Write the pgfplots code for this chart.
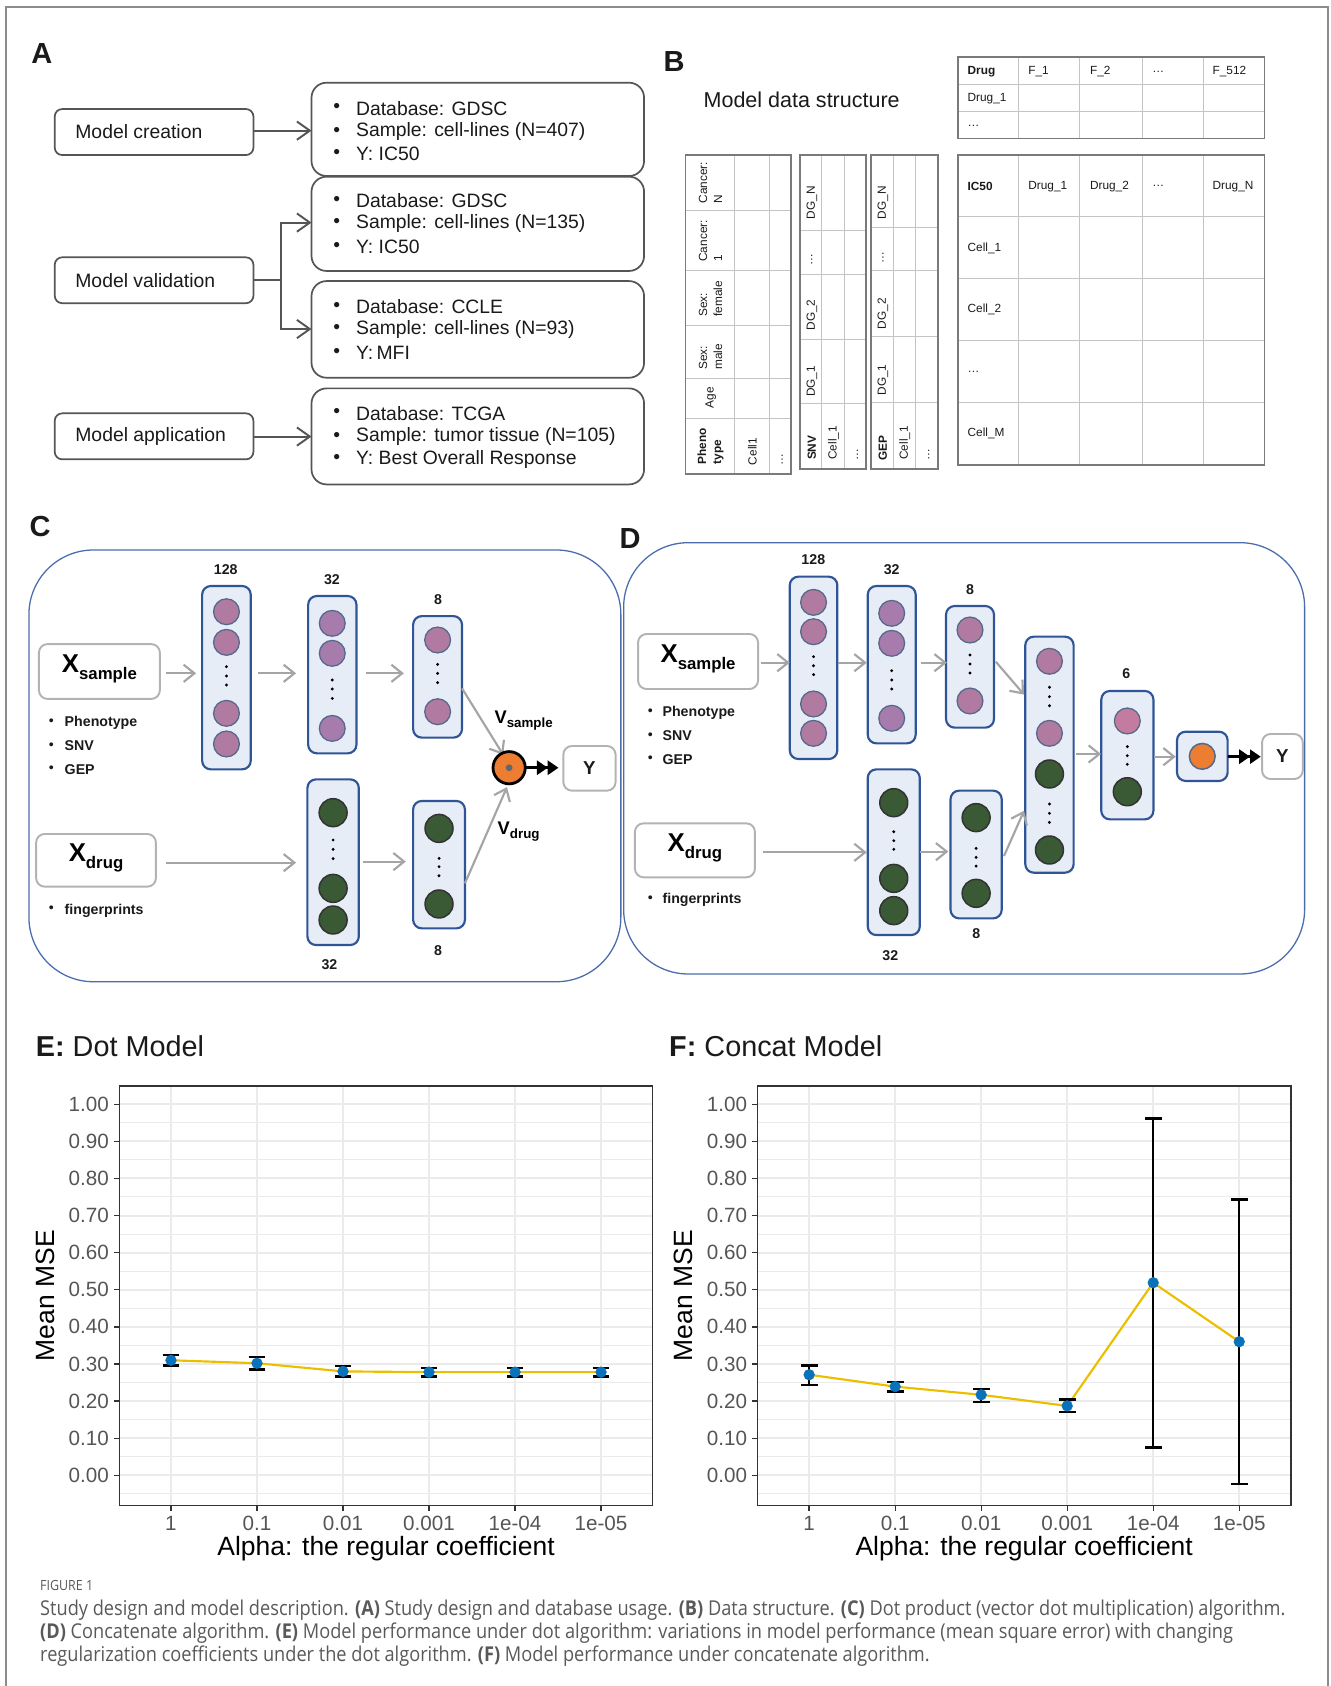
\documentclass[border=0pt]{standalone}
\usepackage{fontspec}
\setmainfont{Liberation Sans}
\newfontfamily\capfont[FakeStretch=0.89]{Open Sans}
\usepackage{pgfplots}
\usepackage{pgfplotstable}
\pgfplotsset{compat=1.18}
\usetikzlibrary{arrows.meta}

\definecolor{framegray}{HTML}{8C8C8C}
\definecolor{boxA}{HTML}{555555}
\definecolor{txt}{HTML}{1A1A1A}
\definecolor{tabin}{HTML}{C4C4C4}
\definecolor{tabout}{HTML}{7A7A7A}
\definecolor{panelblue}{HTML}{4A6DAE}
\definecolor{layerblue}{HTML}{2F5597}
\definecolor{layerfill}{HTML}{E7EDF7}
\definecolor{nborder}{HTML}{56698A}
\definecolor{pinkA}{HTML}{B07AA1}
\definecolor{pinkB}{HTML}{A77BAC}
\definecolor{pinkC}{HTML}{C47BA0}
\definecolor{greenN}{HTML}{3A5A36}
\definecolor{orangeN}{HTML}{ED7D31}
\definecolor{arrowgray}{HTML}{A5A5A5}
\definecolor{inbox}{HTML}{B3B3B3}
\definecolor{gridgray}{HTML}{EBEBEB}
\definecolor{axisdark}{HTML}{333333}
\definecolor{ticgray}{HTML}{555555}
\definecolor{linegold}{HTML}{EBBE00}
\definecolor{ptblue}{HTML}{0A72BA}
\definecolor{capgray}{HTML}{595959}

\newcommand{\fsz}[1]{\fontsize{#1}{#1}\selectfont}
\newcommand{\xlab}[1]{{\fontsize{12}{12}\selectfont\bfseries X\raisebox{-0.5ex}{\fontsize{7.8}{8}\selectfont\bfseries #1}}}
\newcommand{\vlab}[1]{{\fontsize{8.5}{9}\selectfont\bfseries V\raisebox{-0.45ex}{\fontsize{6.2}{7}\selectfont\bfseries #1}}}
\newcommand{\neuron}[3]{\draw[fill=#3, draw=nborder, line width=0.6pt] (#1,#2) circle[radius=12];}
\newcommand{\gneuron}[2]{\draw[fill=greenN, draw=black!80, line width=0.7pt] (#1,#2) circle[radius=13];}
\newcommand{\ndots}[4]{\fill[black] (#1,#2) circle[radius=1.5] (#1,#3) circle[radius=1.5] (#1,#4) circle[radius=1.5];}

\tikzset{
  layer/.style={fill=layerfill, draw=layerblue, line width=1pt, rounded corners=4pt},
  inbox/.style={draw=inbox, line width=0.9pt, rounded corners=4pt, fill=white},
  garrow/.style={draw=arrowgray, line width=1pt, -{Straight Barb[length=5pt,width=8pt]}},
  aarrow/.style={draw=boxA, line width=0.9pt, -{Straight Barb[length=6pt,width=8.5pt]}},
  lab/.style={font=\bfseries\fsz{6.6}, text=txt},
  blt/.style={font=\fsz{6.6}, text=txt},
  bltxt/.style={anchor=base west, inner sep=0pt, font=\bfseries\fsz{6.6}, text=txt},
  atext/.style={anchor=west, inner sep=0pt, font=\fsz{9}, text=txt},
  ttext/.style={anchor=west, inner sep=0pt, font=\fsz{5.5}, text=txt},
  rtext/.style={rotate=90, align=left, inner sep=0pt, font={\fontsize{5.5}{7}\selectfont}, text=txt},
  tabin/.style={draw=tabin, line width=0.4pt},
  tabout/.style={draw=tabout, line width=0.7pt},
}

\pgfplotstableread{
x y ep em
1 0.310 0.014 0.014
2 0.302 0.017 0.017
3 0.280 0.014 0.014
4 0.278 0.012 0.012
5 0.278 0.012 0.012
6 0.278 0.012 0.012
}\dotdata

\pgfplotstableread{
x y ep em
1 0.271 0.025 0.028
2 0.239 0.012 0.013
3 0.217 0.016 0.019
4 0.187 0.017 0.017
5 0.519 0.442 0.444
6 0.360 0.383 0.383
}\concatdata

\pgfplotsset{
  mseaxis/.style={
    scale only axis, width=248pt, height=195pt,
    xmin=0.4, xmax=6.6, ymin=-0.081, ymax=1.049,
    xtick={1,2,3,4,5,6},
    xticklabels={1,0.1,0.01,0.001,1e-04,1e-05},
    ytick={0,0.1,0.2,0.3,0.4,0.5,0.6,0.7,0.8,0.9,1},
    yticklabels={0.00,0.10,0.20,0.30,0.40,0.50,0.60,0.70,0.80,0.90,1.00},
    minor ytick={-0.05,0.05,0.15,0.25,0.35,0.45,0.55,0.65,0.75,0.85,0.95},
    grid=both,
    major grid style={color=gridgray, line width=0.9pt},
    minor grid style={color=gridgray, line width=0.45pt},
    axis line style={color=axisdark, line width=0.7pt},
    tick align=outside, tick pos=left,
    major tick length=2.5pt, minor tick length=0pt,
    tick style={color=axisdark, line width=0.6pt},
    tick label style={font=\fsz{9.6}, text=ticgray, inner sep=1pt},
    xticklabel style={yshift=-1.3pt},
    yticklabel style={xshift=-1.2pt},
    /pgf/number format/assume math mode=true,
    xlabel={Alpha: the regular coefficient},
    ylabel={Mean MSE},
    label style={font=\fsz{12.3}, text=black, inner sep=1pt},
    xlabel style={at={(axis description cs:0.5,-0.1026)}, anchor=center},
    ylabel style={at={(axis description cs:-0.139,0.5)}, anchor=center},
  },
  errplot/.style={
    only marks, mark=*, mark size=0.01pt, mark options={black},
    error bars/.cd, y dir=both, y explicit, error mark=|,
    error bar style={black, line width=1.1pt},
    error mark options={black, line width=1.1pt, mark size=3.9pt},
  },
  ptplot/.style={
    only marks, mark=*, mark size=2.5pt,
    mark options={fill=ptblue, draw=ptblue, line width=0.2pt},
  },
}

\begin{document}
\begin{tikzpicture}
\begin{scope}[x=0.5pt,y=-0.5pt]
\useasboundingbox (0,0) rectangle (1237,1568);
\draw[framegray, line width=1pt] (5.6,1580) -- (5.6,6.5) -- (1235,6.5) -- (1235,1580);

% ---------- A: study design ----------
\node[font=\bfseries\fsz{13.5}, text=txt] at (39,50) {A};
\draw[boxA, line width=0.8pt, rounded corners=3.5pt] (50.9,101.4) rectangle (235.7,144.2);
\draw[boxA, line width=0.8pt, rounded corners=3.5pt] (50.9,239.3) rectangle (235.7,282);
\draw[boxA, line width=0.8pt, rounded corners=3.5pt] (50.9,384.4) rectangle (235.7,427.2);
\node[atext] at (69.7,122.8) {Model creation};
\node[atext] at (69.7,260.6) {Model validation};
\node[atext] at (69.7,405.8) {Model application};

\draw[boxA, line width=0.8pt, rounded corners=7pt, fill=white] (289.7,76.9) rectangle (599,163.7);
\draw[boxA, line width=0.8pt, rounded corners=7pt] (289.7,164.3) rectangle (599,252);
\draw[boxA, line width=0.8pt, rounded corners=7pt] (289.7,261.4) rectangle (599,351.3);
\draw[boxA, line width=0.8pt, rounded corners=7pt] (289.7,361.2) rectangle (599,450.5);

\foreach \y/\t in {100.8/{Database: GDSC}, 122.5/{Sample: cell-lines (N=407)}, 143.5/{Y: IC50},
                   187/{Database: GDSC}, 207.7/{Sample: cell-lines (N=135)}, 229.4/{Y: IC50},
                   285.2/{Database: CCLE}, 306.3/{Sample: cell-lines (N=93)}, 328/{Y:\,MFI},
                   384.4/{Database: TCGA}, 406.1/{Sample: tumor tissue (N=105)}, 427.2/{Y: Best Overall Response}}{
  \node[font=\fsz{9}, text=txt] at (313.2,\y) {•};
  \node[atext] at (330.8,\y) {\t};
}

\draw[aarrow] (235.7,121.5) -- (289.7,121.5);
\draw[boxA, line width=0.9pt] (235.7,260.4) -- (261.5,260.4);
\draw[aarrow] (261.5,260.4) |- (289.7,207);
\draw[aarrow] (261.5,260.4) |- (289.7,306);
\draw[aarrow] (235.7,406) -- (289.7,406);

% ---------- B: data structure ----------
\node[font=\bfseries\fsz{13.5}, text=txt] at (627,57) {B};
\node[anchor=west, inner sep=0pt, font=\fsz{10}, text=txt] at (654,92.6) {Model data structure};

% drug fingerprint table
\foreach \yy in {78.5,103.4} \draw[tabin] (891,\yy) -- (1176,\yy);
\foreach \xx in {947.3,1004.3,1062,1119} \draw[tabin] (\xx,53.2) -- (\xx,128.6);
\draw[tabout] (891,53.2) rectangle (1176,128.6);
\node[ttext, font=\bfseries\fsz{5.5}] at (899.5,67) {Drug};
\node[ttext] at (956,67) {F\_1};
\node[ttext] at (1013.4,67) {F\_2};
\node[ttext] at (1071.2,67) {…};
\node[ttext] at (1127.4,67) {F\_512};
\node[ttext] at (899.5,91.7) {Drug\_1};
\node[ttext] at (899.5,117) {…};

% response table
\foreach \yy in {201.6,258.8,317,374.2} \draw[tabin] (891,\yy) -- (1176,\yy);
\foreach \xx in {947.3,1004.3,1062,1119} \draw[tabin] (\xx,144) -- (\xx,432.4);
\draw[tabout] (891,144) rectangle (1176,432.4);
\node[ttext, font=\bfseries\fsz{5.5}] at (899.5,173.2) {IC50};
\node[ttext] at (956,173.2) {Drug\_1};
\node[ttext] at (1013.4,173.2) {Drug\_2};
\node[ttext] at (1071.2,173.2) {…};
\node[ttext] at (1127.4,173.2) {Drug\_N};
\node[ttext] at (899.5,231.1) {Cell\_1};
\node[ttext] at (899.5,288) {Cell\_2};
\node[ttext] at (899.5,346) {…};
\node[ttext] at (899.5,403.5) {Cell\_M};

% phenotype table
\foreach \yy in {195.7,251.1,303.1,352.1,388.7} \draw[tabin] (637.3,\yy) -- (735.5,\yy);
\foreach \xx in {683.3,715.2} \draw[tabin] (\xx,144) -- (\xx,441);
\draw[tabout] (637.3,144) rectangle (735.5,441);
\node[rtext] at (660.8,170) {Cancer:\\N};
\node[rtext] at (660.8,224) {Cancer:\\1};
\node[rtext] at (660.8,278) {Sex:\\female};
\node[rtext] at (660.8,331.8) {Sex:\\male};
\node[rtext] at (661,370) {Age};
\node[rtext, font={\fontsize{5.5}{7}\selectfont\bfseries}] at (660.8,415) {Pheno\\type};
\node[rtext] at (699.8,420) {Cell1};
\node[rtext] at (727.5,427) {…};

% SNV table
\foreach \yy in {213.9,254.8,315.4,375.5} \draw[tabin] (743.9,\yy) -- (805.3,\yy);
\foreach \xx in {764.1,785.1} \draw[tabin] (\xx,144) -- (\xx,436.4);
\draw[tabout] (743.9,144) rectangle (805.3,436.4);
\node[rtext] at (755,188.6) {DG\_N};
\node[rtext] at (755,241) {…};
\node[rtext] at (755,293) {DG\_2};
\node[rtext] at (755,354.8) {DG\_1};
\node[rtext, font={\fontsize{5.5}{7}\selectfont\bfseries}] at (755,416.4) {SNV};
\node[rtext] at (775.2,411.8) {Cell\_1};
\node[rtext] at (797.5,422.6) {…};

% GEP table
\foreach \yy in {211.1,251.7,313.3,374.2} \draw[tabin] (810.1,\yy) -- (872.2,\yy);
\foreach \xx in {831.1,851.7} \draw[tabin] (\xx,144) -- (\xx,436.4);
\draw[tabout] (810.1,144) rectangle (872.2,436.4);
\node[rtext] at (821.1,188.6) {DG\_N};
\node[rtext] at (821.1,239.4) {…};
\node[rtext] at (821.1,291.7) {DG\_2};
\node[rtext] at (821.1,353.3) {DG\_1};
\node[rtext, font={\fontsize{5.5}{7}\selectfont\bfseries}] at (821.1,416.4) {GEP};
\node[rtext] at (841.4,411.8) {Cell\_1};
\node[rtext] at (863.8,422.6) {…};

% ---------- C: dot product network ----------
\node[font=\bfseries\fsz{13.5}, text=txt] at (37.4,489.8) {C};
\draw[panelblue, line width=0.6pt, rounded corners=30pt] (26.9,511.5) rectangle (577.4,913);

\draw[inbox] (36.2,599) rectangle (148.7,650);
\node at (92.5,622) {\xlab{sample}};
\foreach \y/\t in {671.2/Phenotype, 693.8/SNV, 715.5/GEP}{
  \node[blt] at (47.8,\y) {•};
  \node[bltxt] at (59.8,\y+4.5) {\t};
}
\draw[inbox] (33.6,775.6) rectangle (145,824.6);
\node at (89.3,797.5) {\xlab{drug}};
\node[blt] at (47.8,845.7) {•};
\node[bltxt] at (59.8,850.2) {fingerprints};

\draw[layer] (188,545) rectangle (233.2,715.5);
\neuron{210.6}{568.9}{pinkA} \neuron{210.6}{597.4}{pinkA}
\ndots{210.6}{620}{628.7}{637}
\neuron{210.6}{663.4}{pinkA} \neuron{210.6}{691.9}{pinkA}
\node[lab] at (210,530.1) {128};

\draw[layer] (286.6,554.3) rectangle (331.5,700.6);
\neuron{309}{579.7}{pinkB} \neuron{309}{607.6}{pinkB}
\ndots{309}{632.4}{640.8}{649.5}
\neuron{309}{677.4}{pinkB}
\node[lab] at (308.7,539.4) {32};

\draw[layer] (384.2,573) rectangle (429.7,686);
\neuron{407}{595.2}{pinkA}
\ndots{407}{617.8}{626.2}{634.9}
\neuron{407}{661.9}{pinkA}
\node[lab] at (407.3,557.4) {8};

\draw[layer] (285.9,724.8) rectangle (333.7,878.9);
\gneuron{309.8}{755.8}
\ndots{309.8}{781.2}{789.9}{798.6}
\gneuron{309.8}{826.2} \gneuron{309.8}{855.6}
\node[lab] at (306.4,897.5) {32};

\draw[layer] (384.2,744.9) rectangle (432.4,863.4);
\gneuron{408.3}{770.4}
\ndots{408.3}{798.3}{806}{814.4}
\gneuron{408.3}{840.7}
\node[lab] at (407.3,884.1) {8};

\draw[garrow] (154.3,626.2) -- (182.4,626.2);
\draw[garrow] (240.3,626.2) -- (275.4,626.2);
\draw[garrow] (340,626.2) -- (375.6,626.2);
\draw[garrow] (154.3,802.3) -- (275.4,802.3);
\draw[garrow] (337.5,801.3) -- (377.4,801.3);
\draw[garrow] (429.7,640.2) -- (468,702);
\draw[garrow] (432.4,821.5) -- (471.5,732);

\draw[black, line width=1.3pt, fill=orangeN] (473.5,714) circle[radius=15];
\fill[black!60] (473.5,714) circle[radius=3.2];
\draw[black, line width=1.2pt, -{Triangle[length=5pt,width=6.5pt]Triangle[length=5pt,width=6.5pt]}] (489.5,714) -- (519.4,714);
\draw[inbox] (523.9,693.8) rectangle (572.5,735.3);
\node[font=\bfseries\fsz{8.7}, text=txt] at (548.2,714.5) {Y};
\node[anchor=base west, inner sep=0pt] at (459.6,672.7) {\vlab{sample}};
\node[anchor=base west, inner sep=0pt] at (462.5,776) {\vlab{drug}};

% ---------- D: concatenate network ----------
\node[font=\bfseries\fsz{13.5}, text=txt] at (585.9,500.7) {D};
\draw[panelblue, line width=0.6pt, rounded corners=30pt] (580,504.7) rectangle (1213.3,905.8);

\draw[inbox] (593.4,589.6) rectangle (705,640.8);
\node at (649.2,612.7) {\xlab{sample}};
\foreach \y/\t in {662.2/Phenotype, 684.2/SNV, 706.2/GEP}{
  \node[blt] at (604.8,\y) {•};
  \node[bltxt] at (615.8,\y+4.5) {\t};
}
\draw[inbox] (590.5,765.7) rectangle (702.1,815.9);
\node at (646.3,788.3) {\xlab{drug}};
\node[blt] at (604.8,836.1) {•};
\node[bltxt] at (615.8,840.6) {fingerprints};

\draw[layer] (734.5,536.3) rectangle (778.7,705.9);
\neuron{756.6}{560.2}{pinkA} \neuron{756.6}{587.5}{pinkA}
\ndots{756.6}{610.7}{619.1}{627.4}
\neuron{756.6}{654.7}{pinkA} \neuron{756.6}{682}{pinkA}
\node[lab] at (756.4,520.8) {128};

\draw[layer] (807,545) rectangle (851.6,691.3);
\neuron{829.3}{570.4}{pinkB} \neuron{829.3}{598.3}{pinkB}
\ndots{829.3}{623.7}{632.4}{640.8}
\neuron{829.3}{668}{pinkB}
\node[lab] at (829.3,529.5) {32};

\draw[layer] (879.8,563.6) rectangle (924.4,676.7);
\neuron{902.1}{585.9}{pinkA}
\ndots{902.1}{609.2}{617.5}{625.9}
\neuron{902.1}{651.9}{pinkA}
\node[lab] at (902.1,548.1) {8};

\draw[layer] (953.5,592.1) rectangle (998.5,811.6);
\neuron{976}{615}{pinkA}
\ndots{976}{639.2}{647.9}{656.3}
\neuron{976}{682}{pinkA}
\gneuron{976}{719.8}
\ndots{976}{747.7}{756.4}{764.8}
\gneuron{976}{790.5}

\draw[layer] (1024.2,642.6) rectangle (1072.7,762);
\neuron{1048.4}{670.5}{pinkC}
\ndots{1048.4}{694.4}{702.8}{710.8}
\gneuron{1048.4}{736.3}
\node[lab] at (1047.4,626.8) {6};

\draw[layer] (1094.6,680.5) rectangle (1141.7,726.3);
\draw[fill=orangeN, draw=nborder, line width=0.7pt] (1118.1,703.4) circle[radius=12];

\draw[inbox] (1173.7,682.6) rectangle (1211.6,724.5);
\node[font=\bfseries\fsz{8.7}, text=txt] at (1192.7,703.6) {Y};

\draw[layer] (807,715.5) rectangle (855.4,869.6);
\gneuron{831.2}{746.5}
\ndots{831.2}{773.5}{781.8}{789.9}
\gneuron{831.2}{816.9} \gneuron{831.2}{846.9}
\node[lab] at (828,889.1) {32};

\draw[layer] (884,735.3) rectangle (931.6,854.1);
\gneuron{907.8}{760.4}
\ndots{907.8}{789}{797.3}{805.4}
\gneuron{907.8}{830.8}
\node[lab] at (908,868) {8};

\draw[garrow] (708,616.3) -- (734.5,616.3);
\draw[garrow] (779.6,616.3) -- (806.1,616.3);
\draw[garrow] (856.6,616.3) -- (880.6,616.3);
\draw[garrow] (926.1,615.4) -- (952.4,646);
\draw[garrow] (709.2,792.7) -- (806.1,792.7);
\draw[garrow] (855.4,792) -- (882,792);
\draw[garrow] (933.7,796.1) -- (952.4,754);
\draw[garrow] (1001,701.2) -- (1024,701.2);
\draw[garrow] (1073.5,703.7) -- (1093.5,703.7);
\draw[black, line width=1.2pt, -{Triangle[length=5pt,width=6.5pt]Triangle[length=5pt,width=6.5pt]}] (1141.7,703.7) -- (1172.5,703.7);

% ---------- E / F titles ----------
\node[anchor=base west, inner sep=0pt, font=\fsz{13.4}, text=txt] at (33,983) {\textbf{E:} Dot Model};
\node[anchor=base west, inner sep=0pt, font=\fsz{13.4}, text=txt] at (622,983) {\textbf{F:} Concat Model};

% ---------- caption ----------
\node[anchor=base west, font={\capfont\fsz{6.5}}, text=capgray, inner sep=0pt] at (37,1479) {FIGURE 1};
\node[anchor=base west, font={\capfont\fsz{9.5}}, text=capgray, inner sep=0pt] at (37,1502)
  {Study design and model description. \textbf{(A)} Study design and database usage. \textbf{(B)} Data structure. \textbf{(C)} Dot product (vector dot multiplication) algorithm.};
\node[anchor=base west, font={\capfont\fsz{9.5}}, text=capgray, inner sep=0pt] at (37,1524)
  {\textbf{(D)} Concatenate algorithm. \textbf{(E)} Model performance under dot algorithm: variations in model performance (mean square error) with changing};
\node[anchor=base west, font={\capfont\fsz{9.5}}, text=capgray, inner sep=0pt] at (37,1545)
  {regularization coefficients under the dot algorithm. \textbf{(F)} Model performance under concatenate algorithm.};
\end{scope}

% ---------- E: dot model performance ----------
\begin{axis}[mseaxis, at={(55.5pt,-700pt)}, anchor=south west]
\addplot[linegold, line width=1pt, mark=none] table[x=x, y=y] {\dotdata};
\addplot[errplot] table[x=x, y=y, y error plus=ep, y error minus=em] {\dotdata};
\addplot[ptplot] table[x=x, y=y] {\dotdata};
\end{axis}

% ---------- F: concat model performance ----------
\begin{axis}[mseaxis, at={(352.25pt,-700pt)}, anchor=south west]
\addplot[linegold, line width=1pt, mark=none] table[x=x, y=y] {\concatdata};
\addplot[errplot] table[x=x, y=y, y error plus=ep, y error minus=em] {\concatdata};
\addplot[ptplot] table[x=x, y=y] {\concatdata};
\end{axis}
\end{tikzpicture}
\end{document}
